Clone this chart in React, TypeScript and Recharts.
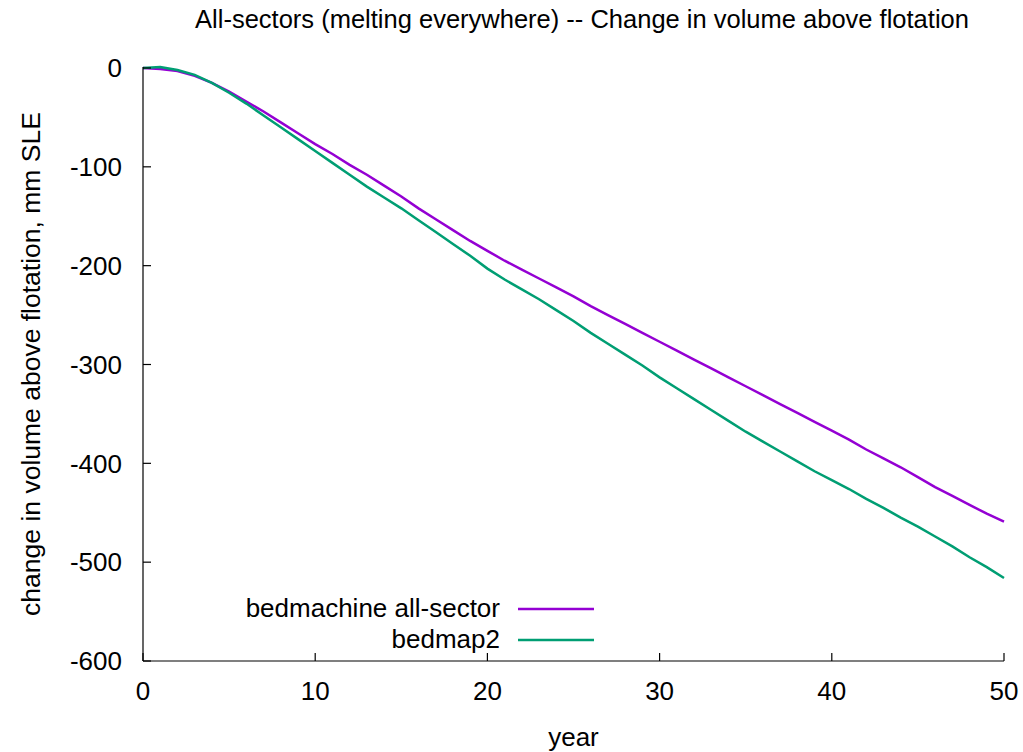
import React from 'react';
import { LineChart, Line, XAxis, YAxis, Legend } from 'recharts';

// Model years (0..50)
const years: number[] = [
  0, 1, 2, 3, 4, 5, 6, 7, 8, 9, 10, 11, 12, 13, 14, 15, 16, 17, 18, 19, 20,
  21, 22, 23, 24, 25, 26, 27, 28, 29, 30, 31, 32, 33, 34, 35, 36, 37, 38, 39, 40,
  41, 42, 43, 44, 45, 46, 47, 48, 49, 50,
];

// Change in volume above flotation, mm SLE — bedmachine all-sector run
const bedmachine: number[] = [
  0, -1, -3, -8, -15, -24, -34, -44, -55, -66, -77, -87, -98, -108, -119, -130, -142, -153, -164, -175, -185,
  -195, -204, -213, -222, -231, -241, -250, -259, -268, -277, -286, -295, -304, -313, -322, -331, -340, -349, -358, -367,
  -376, -386, -395, -404, -414, -424, -433, -442, -451, -459,
];

// Change in volume above flotation, mm SLE — bedmap2 run
const bedmap2: number[] = [
  0, 1, -2, -7, -15, -25, -36, -48, -60, -72, -84, -96, -108, -120, -131, -142, -154, -166, -178, -190, -203,
  -214, -224, -234, -245, -256, -268, -279, -290, -301, -313, -324, -335, -346, -357, -368, -378, -388, -398, -408, -417,
  -426, -436, -445, -455, -464, -474, -484, -495, -505, -516,
];

const xTicks: number[] = [0, 10, 20, 30, 40, 50];
const yTicks: number[] = [0, -100, -200, -300, -400, -500, -600];

const seriesNames = ['bedmachine all-sector', 'bedmap2'];
const seriesColors = ['#9400d3', '#009e73'];

const data = years.map((yr, i) => ({
  year: yr,
  bedmachine: bedmachine[i],
  bedmap2: bedmap2[i],
}));

const FONT = '"Liberation Sans", Arial, sans-serif';
const FS = 26;

const tickStyle = { fontFamily: FONT, fontSize: FS, fill: '#000' };

const LegendBox = () => (
  <svg width={620} height={80} style={{ display: 'block' }}>
    {seriesNames.map((name, i) => {
      const y = 19 + i * 31;
      return (
        <g key={name}>
          <text
            x={500}
            y={y + 8}
            textAnchor="end"
            fontFamily={FONT}
            fontSize={26}
            fill="#000"
          >
            {name}
          </text>
          <line x1={518} x2={594} y1={y} y2={y} stroke={seriesColors[i]} strokeWidth={2.5} />
        </g>
      );
    })}
  </svg>
);

export default function App() {
  return (
    <div style={{ position: 'absolute', left: 0, top: 0, width: 1023, height: 752, background: '#fff' }}>
      <div
        style={{
          position: 'absolute',
          left: 0,
          width: 1164,
          top: 4,
          textAlign: 'center',
          fontFamily: FONT,
          fontSize: 25.5,
          color: '#000',
          lineHeight: '30px',
          whiteSpace: 'nowrap',
        }}
      >
        All-sectors (melting everywhere) -- Change in volume above flotation
      </div>
      <LineChart
        width={1023}
        height={752}
        data={data}
        margin={{ top: 67, right: 19, bottom: 31, left: 0 }}
      >
        <XAxis
          xAxisId="bottom"
          dataKey="year"
          type="number"
          domain={[0, 50]}
          ticks={xTicks}
          interval={0}
          orientation="bottom"
          height={60}
          tickSize={-8}
          tickMargin={29}
          tick={tickStyle}
          axisLine={{ stroke: '#000', strokeWidth: 1.2 }}
          tickLine={{ stroke: '#000', strokeWidth: 1.2 }}
          label={{
            value: 'year',
            position: 'insideBottom',
            offset: -25,
            style: { fontFamily: FONT, fontSize: FS, fill: '#000' },
          }}
        />
        <XAxis
          xAxisId="top"
          dataKey="year"
          type="number"
          domain={[0, 50]}
          ticks={xTicks}
          interval={0}
          orientation="top"
          height={0}
          tickSize={-8}
          tick={false}
          axisLine={{ stroke: '#000', strokeWidth: 1.2 }}
          tickLine={{ stroke: '#000', strokeWidth: 1.2 }}
        />
        <YAxis
          yAxisId="left"
          type="number"
          domain={[-600, 0]}
          ticks={yTicks}
          interval={0}
          orientation="left"
          width={143}
          tickSize={-8}
          tickMargin={29}
          tick={tickStyle}
          axisLine={{ stroke: '#000', strokeWidth: 1.2 }}
          tickLine={{ stroke: '#000', strokeWidth: 1.2 }}
          label={{
            value: 'change in volume above flotation, mm SLE',
            angle: -90,
            position: 'insideLeft',
            offset: 31,
            style: { fontFamily: FONT, fontSize: 26.5, fill: '#000', textAnchor: 'middle' },
          }}
        />
        <YAxis
          yAxisId="right"
          type="number"
          domain={[-600, 0]}
          ticks={yTicks}
          interval={0}
          orientation="right"
          width={0}
          tickSize={-8}
          tick={false}
          axisLine={{ stroke: '#000', strokeWidth: 1.2 }}
          tickLine={{ stroke: '#000', strokeWidth: 1.2 }}
        />
        <Legend
          layout="horizontal"
          verticalAlign="middle"
          align="center"
          content={() => <LegendBox />}
          wrapperStyle={{ position: 'absolute', left: 0, top: 590, width: 620, height: 80 }}
        />
        <Line
          xAxisId="bottom"
          yAxisId="left"
          type="linear"
          dataKey="bedmachine"
          name={seriesNames[0]}
          stroke={seriesColors[0]}
          strokeWidth={2.5}
          dot={false}
          isAnimationActive={false}
        />
        <Line
          xAxisId="bottom"
          yAxisId="left"
          type="linear"
          dataKey="bedmap2"
          name={seriesNames[1]}
          stroke={seriesColors[1]}
          strokeWidth={2.5}
          dot={false}
          isAnimationActive={false}
        />
      </LineChart>
    </div>
  );
}
